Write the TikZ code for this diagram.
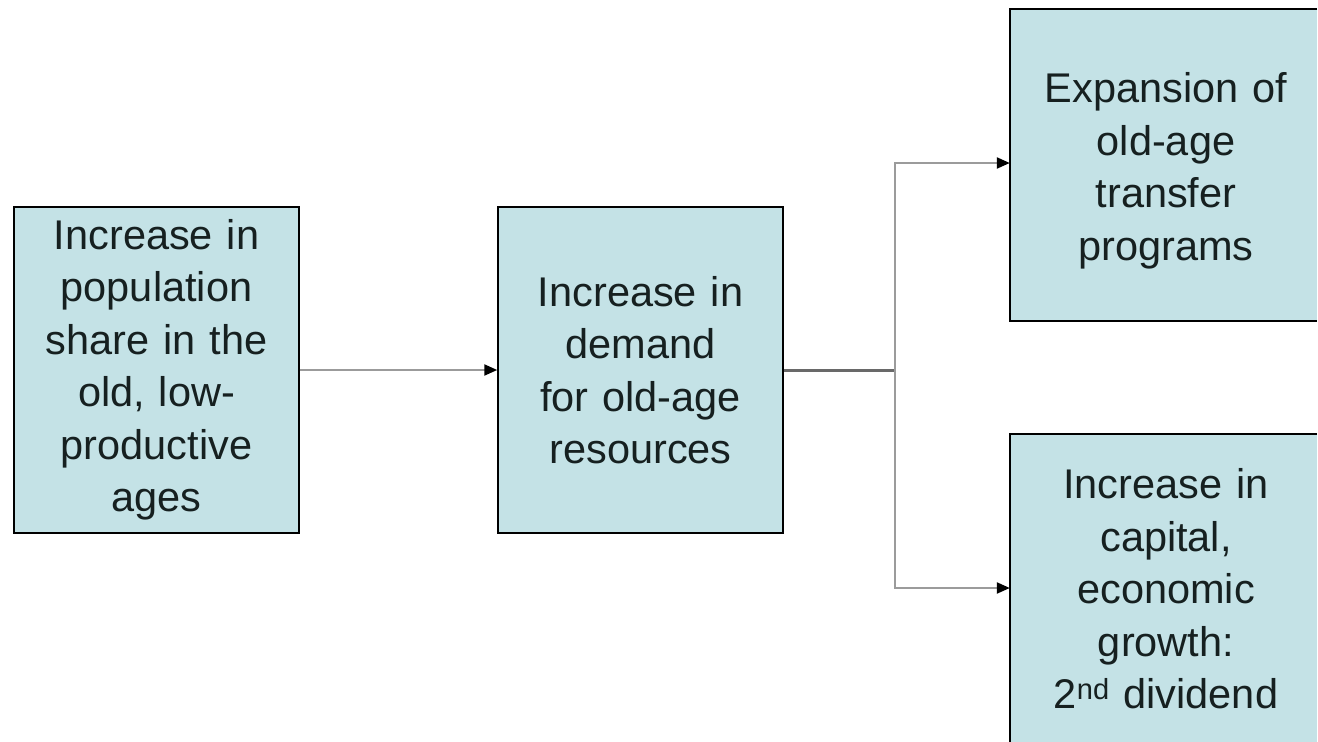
\documentclass[tikz,border=0pt]{standalone}
\usepackage{fontspec}
\setmainfont{Liberation Sans}
\usetikzlibrary{arrows.meta}
\definecolor{boxfill}{RGB}{196,226,230}
\definecolor{linegray}{RGB}{155,155,155}
\definecolor{stemgray}{RGB}{105,105,105}
\definecolor{txt}{RGB}{22,32,32}
\tikzset{
  boxtext/.style={inner sep=0pt, align=center, text=txt,
    font=\fontsize{41.5}{52.5}\selectfont},
  flowbox/.style={boxtext, draw=black, line width=1.5pt, fill=boxfill},
  openbox/.style={boxtext, fill=boxfill},
  openborder/.style={draw=black, line width=1.5pt},
  conn/.style={draw=linegray, line width=2.2pt},
  arrowconn/.style={conn, -{Triangle[length=13pt,width=11pt,color=black]}}
}
\begin{document}
\begin{tikzpicture}[x=1pt,y=-1pt]
\useasboundingbox (0,0) rectangle (1318,742);
\fill[white] (0,0) rectangle (1318,742);
\node[flowbox, minimum width=285pt, minimum height=326pt, text width=280pt] (b1) at (156.5,370)
  {Increase in\\population\\share in the\\old, low-\\productive\\ages};
\node[flowbox, minimum width=285pt, minimum height=326pt, text width=280pt] (b2) at (640.5,370)
  {Increase in\\demand\\for old-age\\resources};
\node[openbox, minimum width=307pt, minimum height=312pt] (b3) at (1163.5,165) {};
\draw[openborder] (b3.north east) -- (b3.north west) -- (b3.south west) -- (b3.south east);
\node[openbox, minimum width=307pt, minimum height=312pt] (b4) at (1163.5,590) {};
\draw[openborder] (b4.north east) -- (b4.north west) -- (b4.south west) -- (b4.south east);
\node[boxtext, text width=300pt] (b3t) at (1166,171)
  {Expansion of\\old-age\\transfer\\programs};
\node[boxtext, text width=300pt] (b4t) at (1166,589)
  {Increase in\\capital,\\economic\\growth:\\2\textsuperscript{nd} dividend};
\coordinate (j) at (895,370);
\draw[arrowconn] (b1.east) -- (b2.west);
\draw[conn, draw=stemgray, line width=3pt] (b2.east) -- (j);
\draw[arrowconn] (j) |- ([yshift=2pt]b3.west);
\draw[arrowconn] (j) |- ([yshift=2pt]b4.west);
\end{tikzpicture}
\end{document}
